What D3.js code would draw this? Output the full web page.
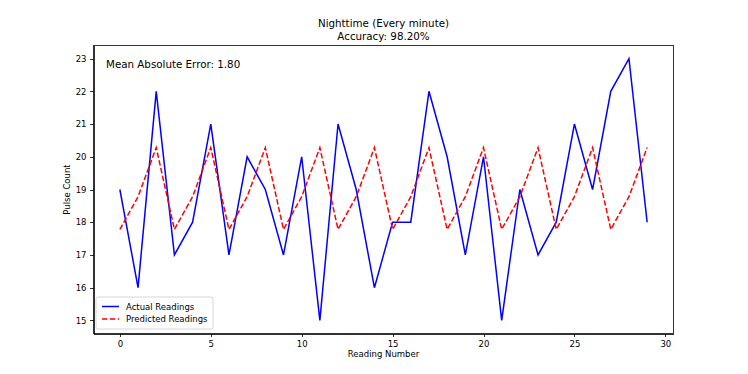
<!DOCTYPE html>
<meta charset="utf-8">
<style>
body{ margin:0; background:white; }
svg text{ font-family:"DejaVu Sans", sans-serif; fill:#000; }
.axis path, .axis line{ stroke:#000; stroke-width:0.8px; shape-rendering:crispEdges; }
.axis text{ font-size:8.5px; }
</style>
<body>
<script src="https://cdn.jsdelivr.net/npm/d3@7"></script>
<script>
// readings
var readingNumber = d3.range(0, 30);
var actual = [19,16,22,17,18,21,17,20,19,17,20,15,21,19,16,18,18,22,20,17,20,15,19,17,18,21,19,22,23,18];
var predicted = [17.78,18.78,20.28,17.78,18.78,20.28,17.78,18.78,20.28,17.78,18.78,20.28,17.78,18.78,20.28,
                 17.78,18.78,20.28,17.78,18.78,20.28,17.78,18.78,20.28,17.78,18.78,20.28,17.78,18.78,20.28];
var xTicks = [0,5,10,15,20,25,30];
var yTicks = [15,16,17,18,19,20,21,22,23];
var titleLines = ["Nighttime (Every minute)", "Accuracy: 98.20%"];
var maeText = "Mean Absolute Error: 1.80";

var W = 748, H = 374;
var m = {left:93.5, right:W-673.5, top:45.5, bottom:H-333.5};

var svg = d3.select("body").append("svg").attr("width", W).attr("height", H);

var x = d3.scaleLinear().domain([-1.45, 30.45]).range([m.left, W-m.right]);
var y = d3.scaleLinear().domain([14.6, 23.4]).range([H-m.bottom, m.top]);

svg.append("g").attr("class","axis")
    .attr("transform","translate(0,"+(H-m.bottom)+")")
    .call(d3.axisBottom(x).tickValues(xTicks).tickSize(3.5).tickPadding(3.5).tickSizeOuter(0));
svg.append("g").attr("class","axis")
    .attr("transform","translate("+m.left+",0)")
    .call(d3.axisLeft(y).tickValues(yTicks).tickSize(3.5).tickPadding(3.5).tickSizeOuter(0));

// frame
svg.append("rect")
    .attr("x", m.left).attr("y", m.top)
    .attr("width", W-m.left-m.right).attr("height", H-m.top-m.bottom)
    .attr("fill","none").attr("stroke","#000").attr("stroke-width",0.8)
    .style("shape-rendering","crispEdges");

var line = function(vals){
    return d3.line().x(function(d,i){ return x(readingNumber[i]); }).y(function(d){ return y(d); })(vals);
};

svg.append("path").attr("d", line(actual))
    .attr("fill","none").attr("stroke","#0000ff").attr("stroke-width",1.5);
svg.append("path").attr("d", line(predicted))
    .attr("fill","none").attr("stroke","#ff0000").attr("stroke-width",1.5)
    .attr("stroke-dasharray","5.5,2.4");

// title
svg.selectAll(".title").data(titleLines).enter().append("text")
    .attr("class","title")
    .attr("x", (m.left + W - m.right)/2)
    .attr("y", function(d,i){ return 27 + i*13; })
    .attr("text-anchor","middle")
    .style("font-size","10.3px")
    .text(function(d){ return d; });

svg.append("text")
    .attr("x", 106).attr("y", 68)
    .style("font-size","10.3px")
    .text(maeText);

svg.append("text")
    .attr("x", (m.left + W - m.right)/2).attr("y", 357)
    .attr("text-anchor","middle").style("font-size","8.5px")
    .text("Reading Number");
svg.append("text")
    .attr("transform","translate(70,"+((m.top + H - m.bottom)/2)+") rotate(-90)")
    .attr("text-anchor","middle").style("font-size","8.5px")
    .text("Pulse Count");

// legend
var lg = svg.append("g").attr("transform","translate(96,297)");
lg.append("rect").attr("width",117).attr("height",32).attr("rx",2)
    .attr("fill","white").attr("fill-opacity",0.8).attr("stroke","#ccc").attr("stroke-width",0.8);
var legendItems = [
    {label:"Actual Readings", color:"#0000ff", dash:null},
    {label:"Predicted Readings", color:"#ff0000", dash:"5.5,2.4"}
];
legendItems.forEach(function(d,i){
    var yy = 9.5 + i*12.5;
    lg.append("line").attr("x1",6).attr("x2",23).attr("y1",yy).attr("y2",yy)
        .attr("stroke",d.color).attr("stroke-width",1.5)
        .attr("stroke-dasharray",d.dash);
    lg.append("text").attr("x",30).attr("y",yy+3)
        .style("font-size","8.5px").text(d.label);
});
</script>
